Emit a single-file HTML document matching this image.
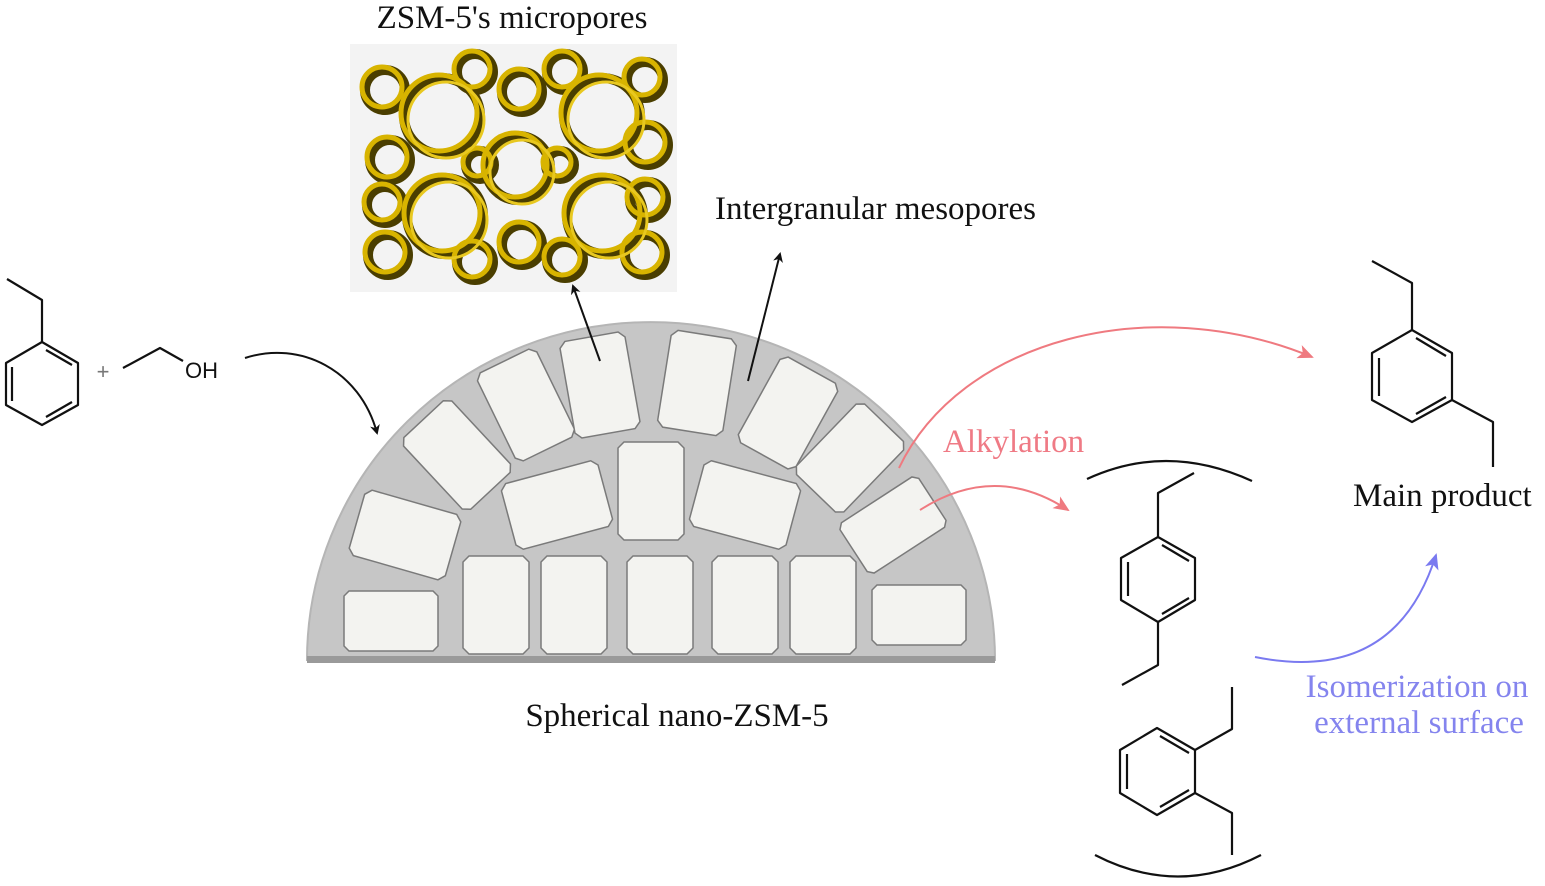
<!DOCTYPE html>
<html><head><meta charset="utf-8"><style>
html,body{margin:0;padding:0;background:#fff;}
svg{display:block;}
text{font-family:"Liberation Serif",serif;}
</style></head><body>
<svg width="1545" height="886" viewBox="0 0 1545 886" xmlns="http://www.w3.org/2000/svg">
<defs>
<marker id="ab" markerWidth="10" markerHeight="10" refX="8" refY="5" orient="auto" markerUnits="userSpaceOnUse"><path d="M0,0 L10,5 L0,10 L3,5 Z" fill="#111"/></marker>
<marker id="ar" markerWidth="16" markerHeight="14" refX="14" refY="7" orient="auto" markerUnits="userSpaceOnUse"><path d="M0,0 L16,7 L0,14 L4,7 Z" fill="#ef7a80"/></marker>
<marker id="abl" markerWidth="16" markerHeight="14" refX="14" refY="7" orient="auto" markerUnits="userSpaceOnUse"><path d="M0,0 L16,7 L0,14 L4,7 Z" fill="#7a7af0"/></marker>
<polygon id="P" points="-27,-49 27,-49 33,-43 33,43 27,49 -27,49 -33,43 -33,-43" fill="#f3f3f0" stroke="#7a7a7a" stroke-width="1.5"/>
<polygon id="L" points="-44,-34 44,-34 50,-28 50,28 44,34 -44,34 -50,28 -50,-28" fill="#f3f3f0" stroke="#7a7a7a" stroke-width="1.5"/>
<polygon id="R" points="-42,-30 42,-30 47,-25 47,25 42,30 -42,30 -47,25 -47,-25" fill="#f3f3f0" stroke="#7a7a7a" stroke-width="1.5"/>
</defs>

<!-- texts -->
<text x="512" y="28" font-size="33" text-anchor="middle" fill="#111">ZSM-5's micropores</text>
<text x="715" y="219" font-size="33" fill="#111">Intergranular mesopores</text>
<text x="677" y="726" font-size="33" text-anchor="middle" fill="#111">Spherical nano-ZSM-5</text>
<text x="1353" y="506" font-size="33" fill="#111">Main product</text>
<text x="943" y="452" font-size="33" fill="#ef7a85">Alkylation</text>
<text x="1417" y="697" font-size="33" text-anchor="middle" fill="#8484ee">Isomerization on</text>
<text x="1419" y="733" font-size="33" text-anchor="middle" fill="#8484ee">external surface</text>

<!-- zeolite picture -->
<rect x="350" y="44" width="327" height="248" fill="#f3f3f3"/>
<g fill="none" stroke-linejoin="round">
<g stroke="#4a3e00" stroke-width="10">
<circle cx="442" cy="116" r="38"/><circle cx="602" cy="116" r="38"/><circle cx="445" cy="216" r="38"/><circle cx="605" cy="216" r="38"/><circle cx="518" cy="168" r="32"/>
<circle cx="385" cy="90" r="20"/><circle cx="390" cy="160" r="20"/><circle cx="385" cy="205" r="18"/><circle cx="388" cy="255" r="20"/><circle cx="475" cy="72" r="18"/><circle cx="522" cy="92" r="20"/><circle cx="565" cy="72" r="18"/><circle cx="645" cy="80" r="18"/><circle cx="648" cy="145" r="20"/><circle cx="648" cy="200" r="18"/><circle cx="645" cy="255" r="20"/><circle cx="522" cy="245" r="20"/><circle cx="565" cy="260" r="18"/><circle cx="475" cy="262" r="18"/><circle cx="480" cy="165" r="14"/><circle cx="560" cy="165" r="14"/>
</g>
<g stroke="#d8b400" stroke-width="5" transform="translate(-3,-3)">
<circle cx="442" cy="116" r="38"/><circle cx="602" cy="116" r="38"/><circle cx="445" cy="216" r="38"/><circle cx="605" cy="216" r="38"/><circle cx="518" cy="168" r="32"/>
<circle cx="385" cy="90" r="20"/><circle cx="390" cy="160" r="20"/><circle cx="385" cy="205" r="18"/><circle cx="388" cy="255" r="20"/><circle cx="475" cy="72" r="18"/><circle cx="522" cy="92" r="20"/><circle cx="565" cy="72" r="18"/><circle cx="645" cy="80" r="18"/><circle cx="648" cy="145" r="20"/><circle cx="648" cy="200" r="18"/><circle cx="645" cy="255" r="20"/><circle cx="522" cy="245" r="20"/><circle cx="565" cy="260" r="18"/><circle cx="475" cy="262" r="18"/><circle cx="480" cy="165" r="14"/><circle cx="560" cy="165" r="14"/>
</g>
<g stroke="#e8c820" stroke-width="3" transform="translate(4,4)">
<circle cx="442" cy="116" r="38"/><circle cx="602" cy="116" r="38"/><circle cx="445" cy="216" r="38"/><circle cx="605" cy="216" r="38"/><circle cx="518" cy="168" r="32"/>
</g>
</g>

<!-- semicircle -->
<path d="M307,660 A344,338 0 0 1 995,660 Z" fill="#c6c6c6" stroke="#b5b5b5" stroke-width="2"/>
<rect x="307" y="656" width="688" height="7" fill="#9a9a9a"/>

<use href="#P" transform="translate(457,455) rotate(-43)"/>
<use href="#P" transform="translate(526,405) rotate(-26)"/>
<use href="#P" transform="translate(600,385) rotate(-10)"/>
<use href="#P" transform="translate(697,383) rotate(9)"/>
<use href="#P" transform="translate(788,413) rotate(29)"/>
<use href="#P" transform="translate(850,458) rotate(44)"/>
<use href="#L" transform="translate(405,535) rotate(16)"/>
<use href="#L" transform="translate(557,505) rotate(-15)"/>
<use href="#P" transform="translate(651,491)"/>
<use href="#L" transform="translate(745,505) rotate(15)"/>
<use href="#R" transform="translate(893,525) rotate(-33)"/>
<use href="#R" transform="translate(391,621)"/>
<use href="#P" transform="translate(496,605)"/>
<use href="#P" transform="translate(574,605)"/>
<use href="#P" transform="translate(660,605)"/>
<use href="#P" transform="translate(745,605)"/>
<use href="#P" transform="translate(823,605)"/>
<use href="#R" transform="translate(919,615)"/>

<g fill="none" stroke="#111" stroke-width="2">
<line x1="600" y1="361" x2="573" y2="286" marker-end="url(#ab)"/>
<line x1="748" y1="381" x2="780" y2="254" marker-end="url(#ab)"/>
<path d="M245,358 C300,340 360,370 377,433" marker-end="url(#ab)"/>
</g>

<g fill="none" stroke-width="2">
<path d="M899,468 C960,340 1150,290 1312,357" stroke="#ef7a80" marker-end="url(#ar)"/>
<path d="M920,510 Q995,462 1068,510" stroke="#ef7a80" marker-end="url(#ar)"/>
<path d="M1255,657 Q1395,685 1436,555" stroke="#7a7af0" marker-end="url(#abl)"/>
</g>

<g fill="none" stroke="#111" stroke-width="2.2" stroke-linejoin="round">
<polyline points="7,279 42,300 42,342"/>
<polygon points="42,342 78,363 78,405 42,425 6,405 6,363"/>
<line x1="46" y1="350" x2="72" y2="365"/><line x1="12" y1="367" x2="12" y2="401"/><line x1="46" y1="417" x2="72" y2="402"/>
<polyline points="123,368 160,348 183,361"/>
<polyline points="1372,261 1412,283 1412,330"/>
<polygon points="1412,330 1452,353 1452,400 1412,422 1372,400 1372,353"/>
<line x1="1416" y1="338" x2="1446" y2="356"/><line x1="1379" y1="358" x2="1379" y2="396"/><line x1="1416" y1="414" x2="1446" y2="397"/>
<polyline points="1452,400 1493,422 1493,467"/>
<path d="M1087,479 Q1167,442 1252,481"/>
<polyline points="1194,473 1158,493 1158,537"/>
<polygon points="1158,537 1195,558 1195,600 1158,622 1121,600 1121,558"/>
<line x1="1162" y1="545" x2="1189" y2="561"/><line x1="1128" y1="562" x2="1128" y2="596"/><line x1="1162" y1="614" x2="1189" y2="598"/>
<polyline points="1158,622 1158,665 1122,685"/>
<polygon points="1157,728 1195,750 1195,793 1157,815 1120,793 1120,750"/>
<line x1="1160" y1="736" x2="1189" y2="753"/><line x1="1127" y1="754" x2="1127" y2="789"/><line x1="1160" y1="807" x2="1189" y2="790"/>
<polyline points="1195,750 1232,729 1232,687"/>
<polyline points="1195,793 1232,813 1232,855"/>
<path d="M1095,855 Q1178,898 1261,855"/>
</g>
<text x="103" y="379" font-size="22" text-anchor="middle" fill="#777" style="font-family:'Liberation Sans',sans-serif">+</text>
<text x="185" y="378" font-size="22" fill="#111" style="font-family:'Liberation Sans',sans-serif">OH</text>
</svg>
</body></html>
